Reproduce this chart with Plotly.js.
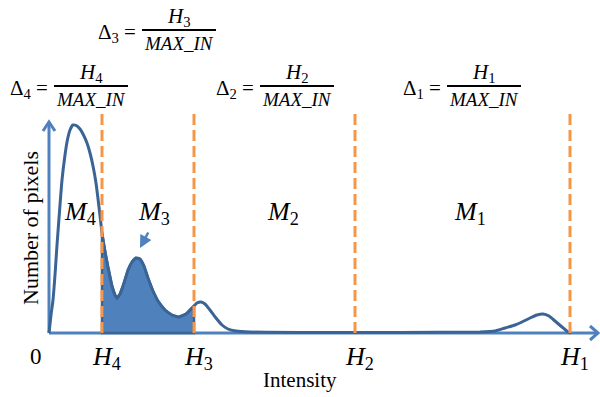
<!DOCTYPE html>
<html>
<head>
<meta charset="utf-8">
<script src="https://cdn.plot.ly/plotly-3.0.1.min.js"></script>
<style>
  body { margin: 0; background: #fff; }
  #grafico { width: 600px; height: 397px; }
</style>
</head>
<body>
<div id="grafico"></div>
<script>
        // Histograma de intensidades
        const intensidad = [0, 2, 4, 6, 8, 11, 13, 16, 18, 21, 24, 28, 31, 34, 38, 41, 44, 47, 50, 53, 56, 59, 63, 66, 68,
            71, 75, 79, 83, 87, 91, 95, 99, 104, 109, 116, 123, 130, 137, 142, 145, 148, 152, 156, 161, 167, 173,
            179, 187, 201, 251, 351, 431, 446, 456, 466, 473, 481, 488, 494, 500, 506, 513, 519, 522];
        const numPixeles = [0, 18, 33, 58, 88, 128, 153, 178, 191, 203, 208, 207, 204, 199, 190, 180, 167, 150, 126, 100, 81, 66, 47, 38, 35,
            39, 50, 63, 71, 75, 74, 67, 55, 42, 32, 23, 18, 16, 19, 24, 27, 30, 31, 29, 23, 15, 8,
            4, 2, 1, 0.5, 0.5, 1, 2, 5, 8, 11, 15, 18, 19, 17, 12, 6, 1, 0];

        // Umbrales H4, H3, H2, H1
        const umbrales = [53, 145, 306, 521];
        const nombresUmbral = ['4', '3', '2', '1'];
        const alturaUmbral = 221;

        // Regiones M4..M1
        const regiones = ['4', '3', '2', '1'];
        const centroRegion = [31, 105, 234, 421];

        // Formulas delta: indice, borde izquierdo de la barra y altura (pixeles)
        const deltas = ['3', '4', '2', '1'];
        const deltaX = [142, 54, 260, 447];
        const deltaY = [30, 86, 86, 86];

        const azulLinea = '#3a6496';
        const azulRelleno = '#4f81bd';
        const naranja = '#f79646';
        const serif = '"Liberation Serif", "Times New Roman", serif';

        // Conversion de pixeles de la imagen a unidades de los ejes
        const px = x => x - 49;
        const py = y => 333 - y;

        // Area sombreada entre H4 y H3
        const sombraX = [];
        const sombraY = [];
        intensidad.forEach((x, i) => {
            if (x >= umbrales[0] && x <= umbrales[1]) {
                sombraX.push(x);
                sombraY.push(numPixeles[i]);
            }
        });
        sombraX.push(umbrales[1], umbrales[0], umbrales[0]);
        sombraY.push(0, 0, sombraY[0]);

        const trazas = [];
        trazas.push({
            x: sombraX, y: sombraY, type: 'scatter', mode: 'lines', fill: 'toself',
            fillcolor: azulRelleno, line: {color: azulLinea, width: 2.5}, hoverinfo: 'skip'
        });
        trazas.push({
            x: intensidad, y: numPixeles, type: 'scatter', mode: 'lines',
            line: {color: azulLinea, width: 3, shape: 'spline', smoothing: 0.5}, hoverinfo: 'skip'
        });
        umbrales.forEach(h => {
            trazas.push({
                x: [h, h], y: [0, alturaUmbral], type: 'scatter', mode: 'lines',
                line: {color: naranja, width: 3, dash: '11px,5px'}, hoverinfo: 'skip'
            });
        });

        const anotaciones = [];
        const formas = [];

        // Ejes con flecha abierta
        const ejeLinea = {color: azulRelleno, width: 3};
        formas.push({type: 'line', x0: 0, y0: 0, x1: px(597), y1: 0, line: ejeLinea, layer: 'below'});
        formas.push({type: 'line', x0: 0, y0: 0, x1: 0, y1: py(123), line: ejeLinea, layer: 'below'});
        formas.push({type: 'path', path: `M${px(590)},${py(326)} L${px(598)},${py(333)} L${px(590)},${py(340)}`, line: ejeLinea});
        formas.push({type: 'path', path: `M${px(43)},${py(131)} L${px(49)},${py(122)} L${px(55)},${py(131)}`, line: ejeLinea});

        // Flecha hacia el pico de M3
        anotaciones.push({x: px(140), y: py(248), ax: px(149), ay: py(231), axref: 'x', ayref: 'y', text: '',
            showarrow: true, arrowhead: 2, arrowsize: 1, arrowwidth: 2.5, arrowcolor: azulRelleno, standoff: 0});

        // Etiquetas del eje x
        anotaciones.push({x: px(36), y: py(356), text: '0', showarrow: false, font: {family: serif, size: 23, color: '#000'}});
        umbrales.forEach((h, i) => {
            anotaciones.push({x: h + 4, y: py(358), text: '<i>H</i><sub>' + nombresUmbral[i] + '</sub>', showarrow: false,
                font: {family: serif, size: 26, color: '#000'}});
        });
        anotaciones.push({x: px(300), y: py(380), text: 'Intensity', showarrow: false, font: {family: serif, size: 21, color: '#000'}});
        anotaciones.push({x: px(30), y: py(228), text: 'Number of pixels', textangle: -90, showarrow: false,
            font: {family: serif, size: 22, color: '#000'}});

        // Etiquetas de regiones
        regiones.forEach((m, i) => {
            anotaciones.push({x: centroRegion[i], y: py(213), text: '<i>M</i><sub>' + m + '</sub>', showarrow: false,
                font: {family: serif, size: 26, color: '#000'}});
        });

        // Formulas
        deltas.forEach((d, i) => {
            const izq = deltaX[i];
            const yb = deltaY[i];
            const centro = izq + 37;
            formas.push({type: 'line', x0: px(izq), x1: px(izq + 74), y0: py(yb), y1: py(yb),
                line: {color: '#000', width: 2}});
            anotaciones.push({x: px(izq - 4), y: py(yb + 3), xanchor: 'right', text: 'Δ<sub>' + d + '</sub> =', showarrow: false,
                font: {family: serif, size: 21, color: '#000'}});
            anotaciones.push({x: px(centro), y: py(yb - 13), text: '<i>H</i><sub>' + d + '</sub>', showarrow: false,
                font: {family: serif, size: 21, color: '#000'}});
            anotaciones.push({x: px(centro), y: py(yb + 13), text: '<i>MAX_IN</i>', showarrow: false,
                font: {family: serif, size: 19, color: '#000'}});
        });

        const layout = {
            width: 600, height: 397,
            margin: {l: 0, r: 0, t: 0, b: 0},
            showlegend: false,
            plot_bgcolor: 'white', paper_bgcolor: 'white',
            xaxis: {range: [-49, 551], showgrid: false, zeroline: false, showticklabels: false, showline: false, fixedrange: true},
            yaxis: {range: [-64, 333], showgrid: false, zeroline: false, showticklabels: false, showline: false, fixedrange: true},
            annotations: anotaciones,
            shapes: formas
        };

        Plotly.newPlot('grafico', trazas, layout, {staticPlot: true});
</script>
</body>
</html>
